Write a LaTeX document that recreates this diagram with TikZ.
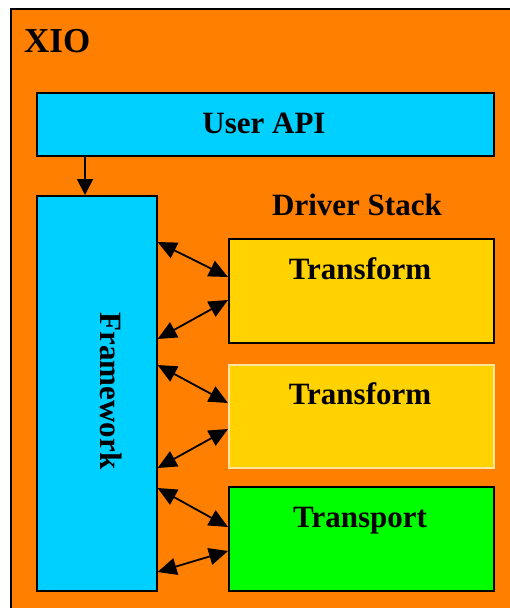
\documentclass[tikz,border=0pt]{standalone}
\usepackage{fontspec}
\setmainfont{Liberation Serif}
\usetikzlibrary{arrows.meta}
\definecolor{xorange}{RGB}{255,127,0}
\definecolor{xcyan}{RGB}{0,208,255}
\definecolor{xyellow}{RGB}{255,210,0}
\definecolor{xgreen}{RGB}{0,255,0}
\definecolor{xpale}{RGB}{255,228,160}
\tikzset{
  box/.style={draw=black, line width=1.6pt, anchor=north west, inner sep=0pt},
  lbl/.style={font=\fontsize{31}{31}\selectfont\bfseries, anchor=base, inner sep=0pt},
  dbl/.style={{Triangle[length=19pt,width=17pt]}-{Triangle[length=19pt,width=17pt]}, line width=1.8pt},
  single/.style={-{Triangle[length=16pt,width=16pt]}, line width=1.8pt}
}
\begin{document}
\begin{tikzpicture}[x=1pt,y=-1pt]
\useasboundingbox (0,0) rectangle (510,608);
\fill[white] (0,0) rectangle (510,608);
\draw[fill=xorange, line width=1.4pt] (11,9) rectangle (540,640);
\node[font=\fontsize{35}{35}\selectfont\bfseries, anchor=base west, inner sep=0pt] (xio) at (24,52) {XIO};
% boxes
\node[box, fill=xcyan, minimum width=457pt, minimum height=63pt] (api) at (36,92) {};
\node[lbl] (apil) at (264,133) {User API};
\node[box, fill=xcyan, minimum width=120pt, minimum height=395pt] (fw) at (36,195) {};
\node[lbl, rotate=-90] (fwl) at (100,391) {Framework};
\node[lbl] (ds) at (357,215) {Driver Stack};
\node[box, fill=xyellow, minimum width=265pt, minimum height=104pt] (t1) at (228,238) {};
\node[lbl] (t1l) at (360,279) {Transform};
\node[box, draw=xpale, fill=xyellow, minimum width=265pt, minimum height=103pt] (t2) at (228,364) {};
\node[lbl] (t2l) at (360,404) {Transform};
\node[box, fill=xgreen, minimum width=265pt, minimum height=104pt] (tp) at (228,486) {};
\node[lbl] (tpl) at (360,527) {Transport};
% connector end points
\coordinate (apiout) at (api.south west -| 85,0);
\coordinate (fwin) at (fw.north west -| 85,0);
\coordinate (f1) at (fw.east |- 0,242);
\coordinate (f2) at (fw.east |- 0,339);
\coordinate (f3) at (fw.east |- 0,365);
\coordinate (f4) at (fw.east |- 0,468);
\coordinate (f5) at (fw.east |- 0,488);
\coordinate (f6) at (fw.east |- 0,572);
\coordinate (a1) at (t1.west |- 0,277);
\coordinate (a2) at (t1.west |- 0,300);
\coordinate (b1) at (t2.west |- 0,403);
\coordinate (b2) at (t2.west |- 0,429);
\coordinate (c1) at (tp.west |- 0,527);
\coordinate (c2) at (tp.west |- 0,551);
% connectors
\draw[single] (apiout) -- (fwin);
\draw[dbl] (f1) -- (a1);
\draw[dbl] (a2) -- (f2);
\draw[dbl] (f3) -- (b1);
\draw[dbl] (b2) -- (f4);
\draw[dbl] (f5) -- (c1);
\draw[dbl] (c2) -- (f6);
\end{tikzpicture}
\end{document}
